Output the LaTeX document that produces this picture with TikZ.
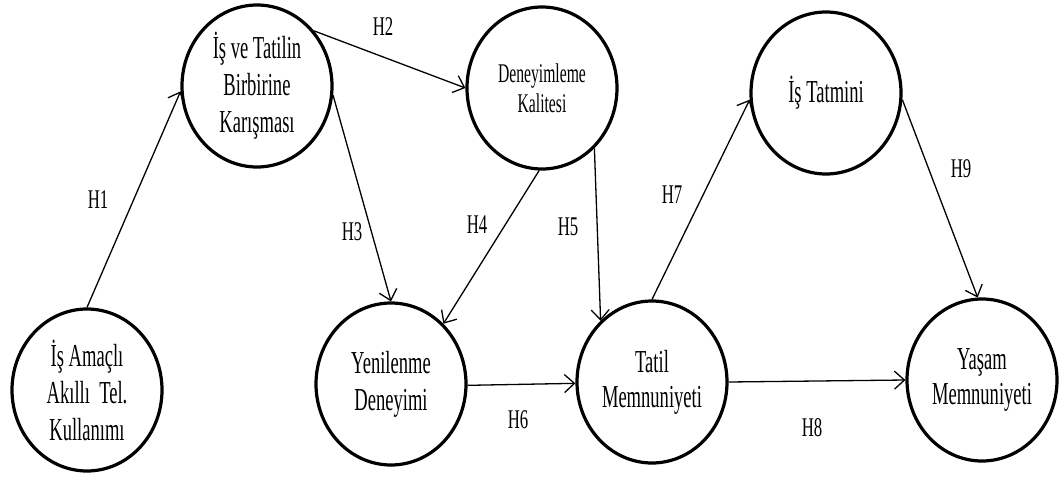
\documentclass[tikz,border=0pt]{standalone}
\usepackage{fontspec}
\setmainfont{Liberation Serif}
\newfontfamily\cond[FakeStretch=0.58]{Liberation Serif}
\newfontfamily\condl[FakeStretch=0.62]{Liberation Serif}
\usetikzlibrary{shapes.geometric,arrows.meta}
\begin{document}
\begin{tikzpicture}[x=1pt,y=-1pt,
  construct/.style={ellipse, draw, line width=3.2pt, minimum width=150pt, minimum height=162pt, inner sep=0pt, align=center, font=\cond\fontsize{32}{37}\selectfont},
  link/.style={line width=1.3pt, -{Straight Barb[length=10pt,width=18pt,line width=1.3pt]}},
  hlabel/.style={font=\condl\fontsize{27}{30}\selectfont, inner sep=0pt}]
\useasboundingbox (0,0) rectangle (1060,479);

\node[construct] (akilli) at (87,390) {İş Amaçlı\\Akıllı~ Tel.\\Kullanımı};
\node[construct] (karisma) at (257,86) {İş ve Tatilin\\Birbirine\\Karışması};
\node[construct, font=\cond\fontsize{27}{30}\selectfont] (kalite) at (542,88) {Deneyimleme\\Kalitesi};
\node[construct] (istatmin) at (826,93) {İş Tatmini};
\node[construct] (yenilenme) at (391,384) {Yenilenme\\Deneyimi};
\node[construct, font=\cond\fontsize{32}{35}\selectfont] (tatil) at (652,382) {Tatil\\Memnuniyeti};
\node[construct, font=\cond\fontsize{32}{35}\selectfont] (yasam) at (982,380) {Yaşam\\Memnuniyeti};

\node[hlabel] (h1) at (98,200) {H1};
\node[hlabel] (h2) at (383,27) {H2};
\node[hlabel] (h3) at (352,232) {H3};
\node[hlabel] (h4) at (477,225) {H4};
\node[hlabel] (h5) at (568,227) {H5};
\node[hlabel] (h6) at (518,420) {H6};
\node[hlabel] (h7) at (672,195) {H7};
\node[hlabel] (h8) at (812,428) {H8};
\node[hlabel] (h9) at (961,169) {H9};

\draw[link] (akilli.90) -- (karisma.184);
\draw[link] (karisma.44) -- (kalite.180);
\draw[link] (karisma.353) -- (yenilenme.90);
\draw[link] (kalite.268) -- (yenilenme.49);
\draw[link] (kalite.311) -- (tatil.130);
\draw[link] (yenilenme.359) -- (tatil.181);
\draw[link] (tatil.90) -- (istatmin.185);
\draw[link] (tatil.0) -- (yasam.180);
\draw[link] (istatmin.355) -- (yasam.93);
\end{tikzpicture}
\end{document}
